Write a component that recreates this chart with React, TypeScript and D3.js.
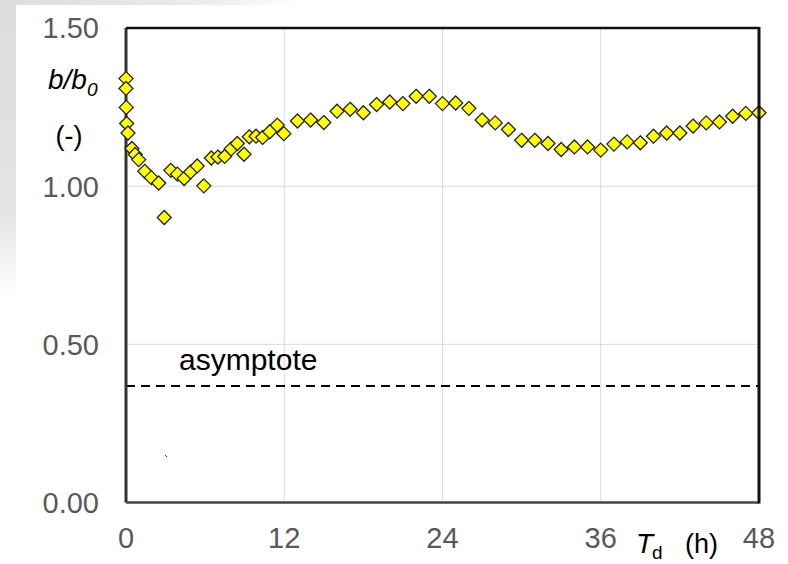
import React from "react";
import * as d3 from "d3";

const times = [
  0, 0, 0.02, 0.05, 0.15, 0.45, 0.7, 0.96, 1.42, 1.92, 2.48, 2.9, 3.4, 3.9, 4.41, 4.9, 5.4, 5.9,
  6.47, 6.97, 7.48, 7.98, 8.44, 8.95, 9.35, 9.86, 10.36, 10.9, 11.47, 11.97,
  13, 14, 15, 16, 17, 18, 19, 20, 21, 22, 23, 24, 25, 26, 27, 28, 29, 30, 31, 32, 33, 34, 35, 36,
  37, 38, 39, 40, 41, 42, 43, 44, 45, 46, 47, 48,
];
const ratios = [
  1.34, 1.309, 1.249, 1.198, 1.168, 1.119, 1.1, 1.084, 1.047, 1.027, 1.01, 0.901, 1.05, 1.038, 1.024, 1.045, 1.064, 1.001,
  1.089, 1.092, 1.094, 1.118, 1.135, 1.101, 1.156, 1.158, 1.154, 1.172, 1.193, 1.166,
  1.206, 1.209, 1.201, 1.237, 1.243, 1.232, 1.258, 1.266, 1.261, 1.284, 1.284, 1.261, 1.263, 1.246, 1.209, 1.2, 1.179, 1.145, 1.145, 1.135, 1.116, 1.124, 1.124, 1.114,
  1.133, 1.14, 1.137, 1.158, 1.168, 1.168, 1.19, 1.2, 1.203, 1.221, 1.23, 1.232,
];
const xTicks = [0, 12, 24, 36, 48];
const yTicks = [0, 0.5, 1.0, 1.5];
const asymptote = 0.368;

const W = 788;
const H = 564;
const x = d3.scaleLinear().domain([0, 48]).range([126, 759]);
const y = d3.scaleLinear().domain([0, 1.5]).range([502.5, 28]);

const FONT = "'Liberation Sans', Arial, sans-serif";

export default function App() {
  const pts = times.map((t, i) => ({ t, v: ratios[i] }));
  const r = 7;
  const diamond = (cx: number, cy: number) =>
    `M${cx},${cy - r}L${cx + r},${cy}L${cx},${cy + r}L${cx - r},${cy}Z`;
  return (
    <svg
      width={W}
      height={H}
      style={{ position: "absolute", left: 0, top: 0, background: "#fff" }}
    >
      <defs>
        <linearGradient id="lg" x1="0" y1="0" x2="0" y2="1">
          <stop offset="0" stopColor="#dcdcdc" />
          <stop offset="0.7" stopColor="#e4e4e4" />
          <stop offset="1" stopColor="#ffffff" />
        </linearGradient>
        <linearGradient id="tg" x1="0" y1="0" x2="1" y2="0">
          <stop offset="0" stopColor="#dcdcdc" />
          <stop offset="0.7" stopColor="#ececec" />
          <stop offset="1" stopColor="#ffffff" />
        </linearGradient>
      </defs>
      <rect x={0} y={0} width={16} height={300} fill="url(#lg)" />
      <rect x={0} y={0} width={300} height={5} fill="url(#tg)" />

      {/* grid */}
      {xTicks.slice(1, -1).map((t) => (
        <line key={"gx" + t} x1={x(t)} x2={x(t)} y1={y(1.5)} y2={y(0)} stroke="#d9d9d9" strokeWidth={1} />
      ))}
      {yTicks.slice(1, -1).map((t) => (
        <line key={"gy" + t} x1={x(0)} x2={x(48)} y1={y(t)} y2={y(t)} stroke="#d9d9d9" strokeWidth={1} />
      ))}

      {/* asymptote */}
      <line
        x1={x(0)}
        x2={x(48)}
        y1={y(asymptote)}
        y2={y(asymptote)}
        stroke="#000"
        strokeWidth={2}
        strokeDasharray="9 6"
      />
      <text x={179} y={370} fontFamily={FONT} fontSize={30} fill="#000">
        asymptote
      </text>

      {/* frame (left, top, bottom) */}
      <line x1={x(0)} x2={x(0)} y1={y(1.5)} y2={y(0)} stroke="#333" strokeWidth={3} />
      <line x1={x(0)} x2={x(48)} y1={y(1.5)} y2={y(1.5)} stroke="#111" strokeWidth={2.5} />
      <line x1={x(0)} x2={x(48)} y1={y(0)} y2={y(0)} stroke="#444" strokeWidth={2.5} />

      {/* points */}
      {pts.map((p, i) => (
        <path key={i} d={diamond(x(p.t), y(p.v))} fill="#ffff00" stroke="#222" strokeWidth={1.3} />
      ))}

      {/* right frame */}
      <line x1={x(48)} x2={x(48)} y1={y(1.5) - 1} y2={y(0) + 1} stroke="#111" strokeWidth={3} />

      {/* small artifact */}
      <line x1={165} y1={455} x2={167} y2={457} stroke="#333" strokeWidth={1} />

      {/* y tick labels */}
      {yTicks.map((t) => (
        <text
          key={"yl" + t}
          x={99}
          y={y(t)}
          dy="0.36em"
          textAnchor="end"
          fontFamily={FONT}
          fontSize={29}
          fill="#595959"
        >
          {t.toFixed(2)}
        </text>
      ))}
      {/* x tick labels */}
      {xTicks.map((t) => (
        <text
          key={"xl" + t}
          x={x(t)}
          y={548}
          textAnchor="middle"
          fontFamily={FONT}
          fontSize={29}
          fill="#595959"
        >
          {t}
        </text>
      ))}

      {/* y label */}
      <text x={48} y={89} fontFamily={FONT} fontSize={28} fontStyle="italic" fill="#000">
        b/b
      </text>
      <text x={87} y={96} fontFamily={FONT} fontSize={19} fontStyle="italic" fill="#000">
        0
      </text>
      <text x={69} y={145} textAnchor="middle" fontFamily={FONT} fontSize={27} fill="#000">
        (-)
      </text>

      {/* x label */}
      <text x={636} y={553} fontFamily={FONT} fontSize={28} fontStyle="italic" fill="#000">
        T
      </text>
      <text x={652} y={559} fontFamily={FONT} fontSize={19} fill="#000">
        d
      </text>
      <text x={685} y={553} fontFamily={FONT} fontSize={27} fill="#000">
        (h)
      </text>
    </svg>
  );
}
